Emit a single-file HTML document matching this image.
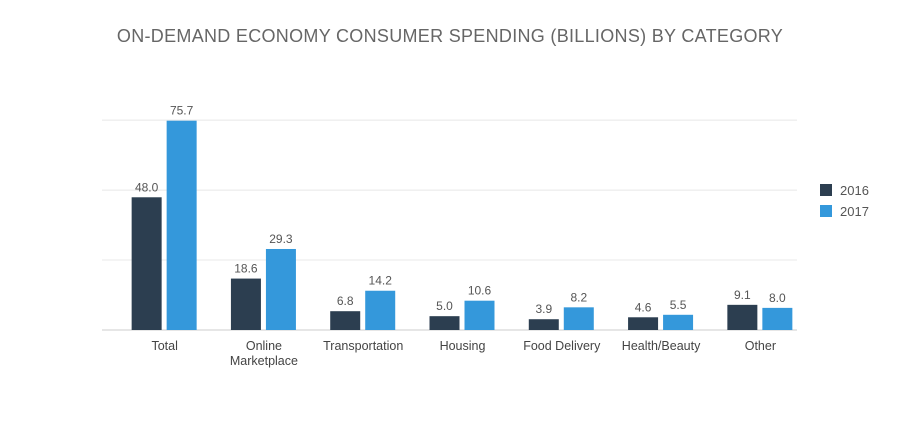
<!DOCTYPE html>
<html><head><meta charset="utf-8"><style>
body{margin:0;background:#fff;}
svg text{font-family:"Liberation Sans",sans-serif;}
</style></head><body>
<svg width="900" height="425" xmlns="http://www.w3.org/2000/svg">
<text x="450" y="42" text-anchor="middle" font-size="18" fill="#666" letter-spacing="0.3">ON-DEMAND ECONOMY CONSUMER SPENDING (BILLIONS) BY CATEGORY</text>
<g id="grid"></g><g id="bars"></g><g id="labels"></g>
<g>
<rect x="820" y="184" width="12" height="12" fill="#2c3e50"/>
<text x="840" y="195" font-size="13" fill="#555">2016</text>
<rect x="820" y="205" width="12" height="12" fill="#3498db"/>
<text x="840" y="216" font-size="13" fill="#555">2017</text>
</g>
</svg>
<script>
const categories=[["Total"],["Online","Marketplace"],["Transportation"],["Housing"],["Food Delivery"],["Health/Beauty"],["Other"]];
const s2016=[48.0,18.6,6.8,5.0,3.9,4.6,9.1];
const s2017=[75.7,29.3,14.2,10.6,8.2,5.5,8.0];
const gridValues=[0,25.3,50.6,75.9];
const NS="http://www.w3.org/2000/svg";
const x0=102,x1=797,base=330,scale=2.765;
const y=v=>base-v*scale;
const band=(x1-x0)/categories.length;
const cx=i=>x0+band*(i+0.5)+15;
function mk(t,a,p){const e=document.createElementNS(NS,t);for(const k in a)e.setAttribute(k,a[k]);p.appendChild(e);return e;}
const g=document.getElementById('grid'),b=document.getElementById('bars'),l=document.getElementById('labels');
gridValues.forEach((v,i)=>{const e=mk('line',{x1:x0,x2:x1,y1:y(v),y2:y(v),stroke:i==0?'#ccc':'#e8e8e8','stroke-width':1},g);

});
categories.forEach((c,i)=>{
 [[s2016,'#2c3e50',-35,'2016'],[s2017,'#3498db',0,'2017']].forEach(([s,col,off,yr])=>{
  const v=s[i],bx=cx(i)+off;
  const r=mk('rect',{x:bx,y:y(v),width:30,height:base-y(v),fill:col},b);
  
  
  const t=mk('text',{x:bx+15,y:y(v)-6,'text-anchor':'middle','font-size':12,fill:'#555'},l);
  t.textContent=v.toFixed(1);
  
  
 });
 c.forEach((line,j)=>{const t=mk('text',{x:cx(i)-2,y:350+j*15,'text-anchor':'middle','font-size':12.5,fill:'#444'},l);
 t.textContent=line;
 
 });
});
</script>
</body></html>
